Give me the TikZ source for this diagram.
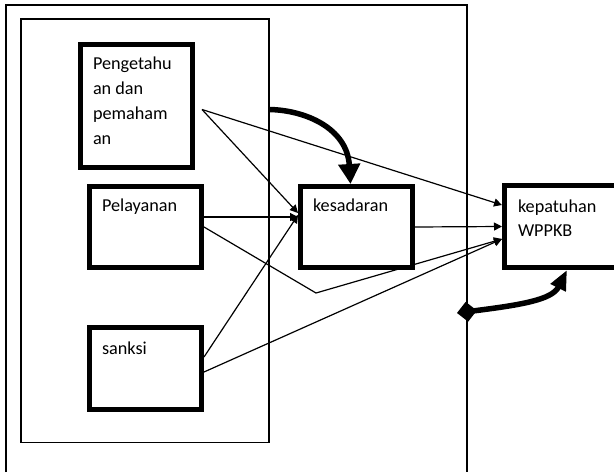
\documentclass[tikz,border=0pt]{standalone}
\usepackage{fontspec}
\setmainfont{Carlito}
\usetikzlibrary{arrows.meta,calc}

\tikzset{
  x=1pt, y=1pt,
  frameline/.style={line width=1.2pt, black},
  box/.style={draw, rectangle, line width=5pt, inner sep=0pt, outer sep=2.5pt},
  label text/.style={anchor=base west, inner sep=0pt, outer sep=0pt,
    font=\fontsize{18.2pt}{25pt}\selectfont},
  conn/.style={line width=1.2pt, -{Triangle[length=8pt,width=8pt]}},
  bold arrow/.style={line width=5.5pt, -{Triangle[length=20pt,width=21pt]}},
  bold link/.style={line width=5.5pt,
    {Diamond[length=20pt,width=20pt]}-{Triangle[length=20pt,width=16pt]}}
}

\begin{document}
\begin{tikzpicture}
  \useasboundingbox (0,0) rectangle (614,-472);
  \clip (0,0) rectangle (614,-472);

  % outer frame (open at the bottom) and inner frame
  \draw[frameline] (6,-472) |- (467,-5) -- (467,-472);
  \draw[frameline] (21,-19) rectangle (269,-442.5);

  % boxes
  \node[box, minimum width=112.5pt, minimum height=122.5pt] (pg) at (136.25,-105.75) {};
  \node[box, minimum width=112pt, minimum height=81pt] (pl) at (145.5,-227) {};
  \node[box, minimum width=112pt, minimum height=82pt] (sk) at (145.5,-368.5) {};
  \node[box, minimum width=112pt, minimum height=81pt] (ks) at (356.5,-227) {};
  \node[box, minimum width=130pt, minimum height=82pt] (kp) at (569.5,-226.5) {};

  % box texts
  \node[label text] (pgtext) at (93,-69.3)
    {\parbox[t]{100pt}{\raggedright Pengetahu\\an dan\\pemaham\\an}};
  \node[label text] (pltext) at (102,-211) {Pelayanan};
  \node[label text] (sktext) at (102,-354.3) {sanksi};
  \node[label text] (kstext) at (313,-211) {kesadaran};
  \node[label text] (kptext) at (518,-212.7)
    {\parbox[t]{100pt}{\fontsize{18.2pt}{23.5pt}\selectfont\raggedright kepatuhan\\WPPKB}};

  % free ends of connectors
  \coordinate (pgout) at (202,-109.5);
  \coordinate (bend) at (316,-293);
  \coordinate (curvestart) at (269,-109.5);
  \coordinate (diamondpt) at (457,-313);

  % thin connectors
  \draw[conn] (pgout) -- ($(ks.west)+(0,14)$);
  \draw[conn] (pgout) -- ($(kp.west)+(0,21.5)$);
  \draw[conn] ($(pl.east)+(0,10)$) -- ($(ks.west)+(0,10)$);
  \draw[conn] (pl.east) -- (bend) -- ($(kp.west)+(0,-12.5)$);
  \draw[conn] ($(sk.east)+(0,11.5)$) -- ($(ks.west)+(0,12)$);
  \draw[conn] ($(sk.east)+(0,-3.5)$) -- ($(kp.west)+(0,-12.5)$);
  \draw[conn] (ks.east) -- (kp.west);

  % bold curved arrows
  \draw[bold arrow] (curvestart) .. controls (305,-110) and (347,-128) .. ($(ks.north)+(-6,0)$);
  \draw[bold link] (diamondpt) .. controls (520,-305) and (552,-300) .. ($(kp.south west)+(65,0)$);
\end{tikzpicture}
\end{document}
